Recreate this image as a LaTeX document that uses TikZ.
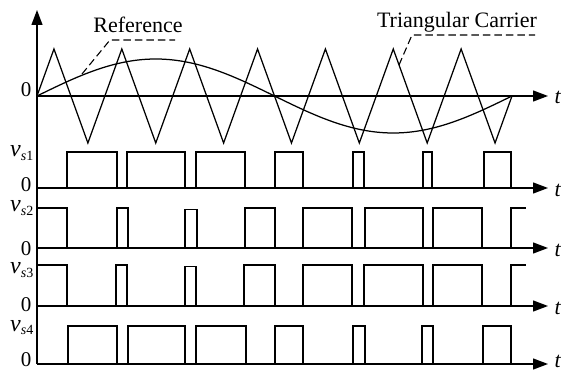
\documentclass[tikz,border=0pt]{standalone}
\usepackage{fontspec}
\setmainfont{Liberation Serif}
\usetikzlibrary{arrows.meta}
\newcommand{\vsub}[1]{\textit{v}\raisebox{-3.5pt}{\fontsize{14}{14}\selectfont\textit{s}#1}}
\begin{document}
\begin{tikzpicture}[x=1pt,y=-1pt,
  wave/.style={line width=1.25pt, line join=miter},
  axisline/.style={line width=1.3pt, -{Triangle[length=15pt,width=11pt]}},
  leader/.style={line width=1.1pt, dash pattern=on 7.5pt off 4pt},
  lbl/.style={font=\fontsize{22}{24}\selectfont, inner sep=0pt},
  vlbl/.style={font=\fontsize{24}{26}\selectfont, inner sep=0pt, anchor=base west},
  tlbl/.style={font=\fontsize{22}{24}\selectfont\itshape, inner sep=0pt, anchor=base west},
  zlbl/.style={font=\fontsize{21}{24}\selectfont, inner sep=0pt, anchor=base}]
\useasboundingbox (0,0) rectangle (562,371);
% axes
\coordinate (o0) at (37,364);
\coordinate (top) at (37,10);
\draw[axisline] (o0) -- (top);
\foreach \yy/\nm/\ty in {96/a0/104,188/a1/196.5,248/a2/256.5,306/a3/314.5,364/a4/367.5}{
  \coordinate (\nm s) at (37,\yy);
  \coordinate (\nm e) at (548,\yy);
  \draw[axisline] (\nm s) -- (\nm e);
  \node[tlbl] (t\nm) at (554.5,\ty) {t};
}
% zero labels
\node[zlbl] (z0) at (26,97) {0};
\node[zlbl] (z1) at (26,191.5) {0};
\node[zlbl] (z2) at (26,256) {0};
\node[zlbl] (z3) at (26,311) {0};
\node[zlbl] (z4) at (26,366.5) {0};
% v labels
\node[vlbl] (v1) at (10,157) {\vsub{1}};
\node[vlbl] (v2) at (10,212) {\vsub{2}};
\node[vlbl] (v3) at (10,274) {\vsub{3}};
\node[vlbl] (v4) at (10,331) {\vsub{4}};
% triangular carrier
\draw[wave] (37,96)
  -- (53.96,49) -- (87.89,143)
  -- (121.82,49) -- (155.75,143)
  -- (189.68,49) -- (223.61,143)
  -- (257.54,49) -- (291.47,143)
  -- (325.40,49) -- (359.33,143)
  -- (393.26,49) -- (427.19,143)
  -- (461.12,49) -- (495.05,143)
  -- (512,96);
% reference sine
\draw[wave] plot[domain=37:512, samples=120, smooth] (\x,{96-37*sin(0.7578947*(\x-37))});
% leader labels
\node[lbl, anchor=base] (reflbl) at (138,33) {Reference};
\coordinate (refpt) at (82,74);
\coordinate (refk) at (110,40);
\coordinate (refe) at (175,40);
\draw[leader] (refpt) -- (refk) -- (refe);
\node[lbl, anchor=base] (carlbl) at (457,28) {Triangular Carrier};
\coordinate (carpt) at (399,65);
\coordinate (cark) at (412,35);
\coordinate (care) at (535,35);
\draw[leader] (carpt) -- (cark) -- (care);
% v_s1 pulses
\foreach \a/\b in {67/117,127/185,196/245,275/303,353/364,423/432,484/511}
  \draw[wave] (\a,188) -- (\a,152) -- (\b,152) -- (\b,188);
% v_s2 pulses
\draw[wave] (37,208) -- (67,208) -- (67,248);
\foreach \a/\b/\h in {117/128/208,185/197/209.5,245/275/208,303/352/208,365/423/208,433/482/208}
  \draw[wave] (\a,248) -- (\a,\h) -- (\b,\h) -- (\b,248);
\draw[wave] (511,248) -- (511,208) -- (526,208);
% v_s3 pulses
\draw[wave] (37,265) -- (67,265) -- (67,306);
\foreach \a/\b/\h in {116/127/265,185/196/266.5,244/275/265,303/352/265,364/423/265,433/482/265}
  \draw[wave] (\a,306) -- (\a,\h) -- (\b,\h) -- (\b,306);
\draw[wave] (511,306) -- (511,265) -- (526,265);
% v_s4 pulses
\foreach \a/\b in {68/117,128/185,196/246,275/303,353/365,422/433,483/511}
  \draw[wave] (\a,364) -- (\a,326) -- (\b,326) -- (\b,364);
\end{tikzpicture}
\end{document}
